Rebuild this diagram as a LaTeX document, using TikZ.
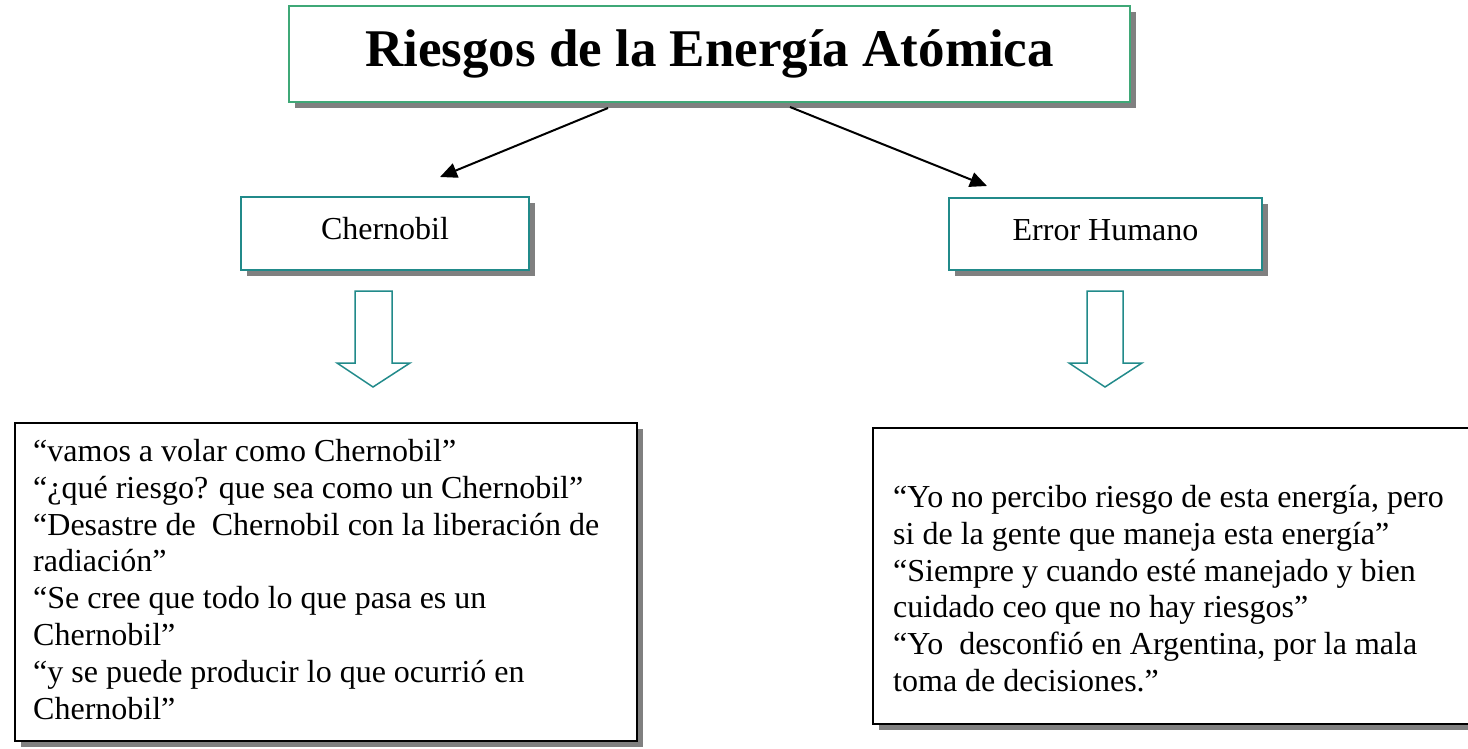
\documentclass[tikz,border=0pt]{standalone}
\usepackage{fontspec}
\setmainfont{Liberation Serif}
\usetikzlibrary{shadows,arrows.meta}
\definecolor{titlegreen}{HTML}{3FA877}
\definecolor{tealc}{HTML}{218A8A}
\definecolor{shadowgray}{HTML}{808080}
\begin{document}
\begin{tikzpicture}[x=1pt,y=-1pt,
 shadowed/.style={general shadow={fill=shadowgray, shadow xshift=6pt, shadow yshift=-6pt}},
 titlebox/.style={draw=titlegreen, line width=2pt, fill=white, shadowed, font=\fontsize{53}{60}\selectfont\bfseries, inner sep=0pt},
 catbox/.style={draw=tealc, line width=2pt, fill=white, shadowed, font=\fontsize{32}{36.8}\selectfont, inner sep=0pt, text height=22pt, text depth=10pt},
 quotebox/.style={draw=black, line width=2pt, fill=white, shadowed, inner sep=0pt},
 quotetext/.style={font=\fontsize{32}{36.8}\selectfont, align=left, anchor=north west, inner sep=0pt},
 link/.style={line width=2pt, -{Triangle[length=17pt,width=15pt]}},
 blockarrow/.style={draw=tealc, line width=1.5pt, fill=white, line join=miter}
]
\clip (0,0) rectangle (1468,748);
\fill[white] (0,0) rectangle (1468,748);

% title
\node[titlebox, minimum width=841pt, minimum height=96pt] (title) at (709.5,54) {Riesgos de la Energía Atómica};

% category boxes
\node[catbox, minimum width=288pt, minimum height=73pt] (cher) at (385,233.5) {Chernobil};
\node[catbox, minimum width=313pt, minimum height=72pt] (err) at (1105.5,234) {Error Humano};

% links
\coordinate (tl) at (608,108);
\coordinate (tr) at (790,107);
\coordinate (el) at (440,177);
\coordinate (er) at (987,186);
\draw[link] (tl) -- (el);
\draw[link] (tr) -- (er);

% block arrows
\draw[blockarrow] (355,291) -- (392,291) -- (392,363) -- (410,363) -- (373,387) -- (337,363) -- (355,363) -- cycle;
\draw[blockarrow] (1087,291) -- (1123,291) -- (1123,363) -- (1142,363) -- (1105,387) -- (1069,363) -- (1087,363) -- cycle;

% quote boxes
\node[quotebox, minimum width=622pt, minimum height=318pt] (qleft) at (326,582) {};
\node[quotebox, minimum width=627pt, minimum height=296pt] (qright) at (1186.5,576) {};

\node[quotetext] (tleft) at (33,439) {“vamos a volar como Chernobil”\\
“¿qué riesgo? que sea como un Chernobil”\\
“Desastre de~ Chernobil con la liberación de\\
radiación”\\
“Se cree que todo lo que pasa es un\\
Chernobil”\\
“y se puede producir lo que ocurrió en\\
Chernobil”};

\node[quotetext] (tright) at (893,485) {“Yo no percibo riesgo de esta energía, pero\\
si de la gente que maneja esta energía”\\
“Siempre y cuando esté manejado y bien\\
cuidado ceo que no hay riesgos”\\
“Yo~ desconfió en Argentina, por la mala\\
toma de decisiones.”};
\end{tikzpicture}
\end{document}
